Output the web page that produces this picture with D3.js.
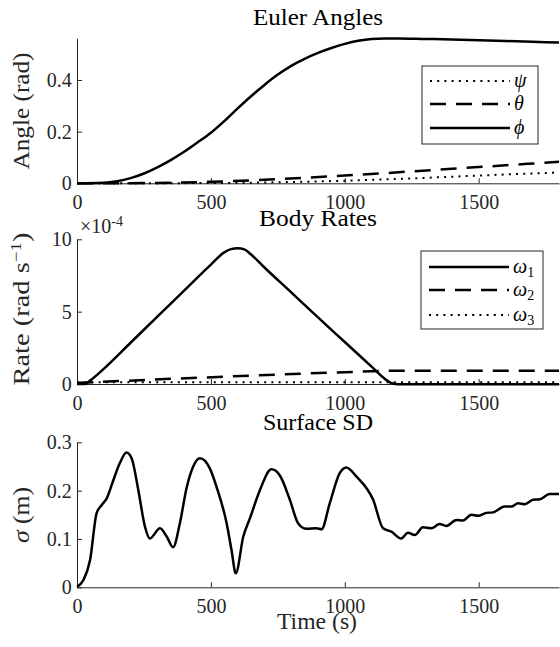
<!DOCTYPE html>
<html><head><meta charset="utf-8">
<script src="https://cdn.jsdelivr.net/npm/d3@7"></script>
<style>
body{margin:0;background:#fff}svg{display:block}
svg text{font-family:"Liberation Serif","DejaVu Serif","Times New Roman",Times,serif !important;}
</style>
</head><body>
<svg id="c" width="560" height="647"></svg>
<script>
// ---------- data ----------
const xDomain = [0, 1800];
const xTicks = [0, 500, 1000, 1500];

// Euler angles (rad)
const tPhi = [0,100,150,200,250,300,350,400,450,500,550,600,650,700,750,800,850,900,950,1000,1050,1100,1150,1200,1300,1400,1500,1600,1700,1800];
const phi  = [0,0.002,0.008,0.020,0.038,0.062,0.090,0.122,0.158,0.196,0.241,0.290,0.337,0.381,0.421,0.455,0.482,0.505,0.524,0.540,0.552,0.559,0.561,0.561,0.559,0.557,0.554,0.551,0.548,0.545];
const tTheta = [0,250,500,750,1000,1250,1500,1800];
const theta  = [0,0.001,0.006,0.016,0.030,0.046,0.063,0.083];
const tPsi = [0,500,750,1000,1250,1500,1800];
const psi  = [0,0.001,0.004,0.010,0.019,0.030,0.042];
const angleYDomain = [0, 0.5615];
const angleYTicks = [0, 0.2, 0.4];
const angleYLabels = ["0", "0.2", "0.4"];

// Body rates (x 1e-4 rad/s)
const tW1 = [0,30,50,100,200,300,400,500,550,575,600,625,650,700,800,900,1000,1100,1150,1175,1200,1800];
const w1  = [0,0,0.25,1.05,2.85,4.65,6.45,8.25,9.1,9.32,9.38,9.3,8.95,8.05,6.33,4.6,2.9,1.2,0.35,0.05,-0.02,-0.02];
const tW2 = [0,1100,1150,1200,1800];
const w2  = [0.08,0.88,0.91,0.92,0.92];
const tW3 = [0,1800];
const w3  = [0.12,0.12];
const rateYDomain = [0, 10];
const rateYTicks = [0, 5, 10];
const rateYLabels = ["0", "5", "10"];

// Surface SD (m)
const tSig = [0,24,49,73,92,111,136,160,185,204,229,254,272,310,335,359,384,409,434,459,496,521,559,577,593,621,646,683,726,757,795,826,857,894,913,944,981,1006,1044,1106,1143,1174,1211,1236,1261,1292,1323,1354,1379,1417,1441,1473,1497,1529,1553,1597,1622,1647,1672,1703,1728,1765,1800];
const sig  = [0.001,0.015,0.057,0.153,0.170,0.184,0.222,0.257,0.279,0.267,0.201,0.125,0.101,0.122,0.105,0.083,0.132,0.205,0.250,0.267,0.246,0.208,0.132,0.077,0.029,0.105,0.143,0.201,0.244,0.232,0.181,0.132,0.121,0.122,0.120,0.174,0.236,0.248,0.229,0.181,0.122,0.115,0.101,0.113,0.108,0.124,0.122,0.131,0.127,0.139,0.138,0.150,0.148,0.154,0.155,0.167,0.167,0.174,0.172,0.181,0.182,0.193,0.193];
const sigYDomain = [0, 0.3];
const sigYTicks = [0, 0.1, 0.2, 0.3];
const sigYLabels = ["0", "0.1", "0.2", "0.3"];

// ---------- drawing ----------
const svg = d3.select("#c");
const AX = "#262626";
const x = d3.scaleLinear().domain(xDomain).range([77, 559]);
const zip = (a, b) => a.map((v, i) => [v, b[i]]);

const STY = {
  solid:  {w: 2.5, dash: null},
  dashed: {w: 2.5, dash: "16 10"},
  dotted: {w: 2,   dash: "2 5.2"}
};

function panel(top, bottom, yDomain, yTicks, yLabels) {
  const y = d3.scaleLinear().domain(yDomain).range([bottom, top]);
  const g = svg.append("g");
  const xa = g.append("g").attr("transform", `translate(0,${bottom})`)
    .call(d3.axisBottom(x).tickValues(xTicks).tickSizeInner(-5).tickSizeOuter(0).tickPadding(11.5).tickFormat(d3.format("d")));
  const ya = g.append("g").attr("transform", `translate(${x(0)},0)`)
    .call(d3.axisLeft(y).tickValues(yTicks).tickSizeInner(-5).tickSizeOuter(0).tickPadding(5.3)
      .tickFormat((d, i) => yLabels[i]));
  [xa, ya].forEach(a => {
    a.attr("font-family", null).attr("font-size", null);
    a.selectAll("path.domain").attr("stroke", AX).attr("stroke-width", 1);
    a.selectAll(".tick line").attr("stroke", AX).attr("stroke-width", 1);
    a.selectAll("text").style("font-size", "20px").attr("fill", AX);
  });
  return {g, y};
}

function drawLine(p, data, style) {
  const s = STY[style];
  const line = d3.line().x(d => x(d[0])).y(d => p.y(d[1])).curve(d3.curveMonotoneX);
  p.g.append("path").datum(data).attr("d", line)
    .attr("fill", "none").attr("stroke", "#000").attr("stroke-width", s.w)
    .attr("stroke-dasharray", s.dash).attr("stroke-linejoin", "round");
}

function title(txt, yb, len) {
  svg.append("text").attr("x", 318).attr("y", yb).attr("text-anchor", "middle")
    .style("font-size", "22.5px").attr("fill", "#000")
    .attr("textLength", len).attr("lengthAdjust", "spacingAndGlyphs").text(txt);
}

function ylabel(cy, builder, len) {
  const t = svg.append("text").attr("transform", `translate(29,${cy}) rotate(-90)`)
    .attr("text-anchor", "middle").style("font-size", "22.5px").attr("fill", AX);
  builder(t);
  if (len) t.attr("textLength", len).attr("lengthAdjust", "spacingAndGlyphs");
}

function legend(bx, by, bw, bh, entries) {
  const g = svg.append("g");
  g.append("rect").attr("x", bx).attr("y", by).attr("width", bw).attr("height", bh)
    .attr("fill", "#fff").attr("stroke", AX).attr("stroke-width", 1);
  entries.forEach(e => {
    const s = STY[e.style];
    g.append("line").attr("x1", bx + 8).attr("x2", bx + 88).attr("y1", e.y).attr("y2", e.y)
      .attr("stroke", "#000").attr("stroke-width", s.w).attr("stroke-dasharray", s.dash);
    const t = g.append("text").attr("x", bx + 92).attr("y", e.y + 6)
      .style("font-size", "20px").attr("fill", "#000");
    t.append("tspan").style("font-style", "italic").text(e.sym);
    if (e.sub) t.append("tspan").style("font-size", "14px").attr("dy", 4).text(e.sub);
  });
}

// Panel 1: Euler angles
const p1 = panel(38.3, 183.3, angleYDomain, angleYTicks, angleYLabels);
drawLine(p1, zip(tPsi, psi), "dotted");
drawLine(p1, zip(tTheta, theta), "dashed");
drawLine(p1, zip(tPhi, phi), "solid");
title("Euler Angles", 25, 130);
ylabel(111, t => t.text("Angle (rad)"), 117);
legend(422, 66, 116, 78, [
  {sym: "ψ", style: "dotted", y: 81},
  {sym: "θ", style: "dashed", y: 104},
  {sym: "ϕ", style: "solid", y: 128}
]);

// Panel 2: Body rates
const p2 = panel(239.3, 384, rateYDomain, rateYTicks, rateYLabels);
drawLine(p2, zip(tW3, w3), "dotted");
drawLine(p2, zip(tW2, w2), "dashed");
drawLine(p2, zip(tW1, w1), "solid");
title("Body Rates", 226, 118);
ylabel(309, t => {
  t.append("tspan").text("Rate (rad s");
  t.append("tspan").style("font-size", "15px").attr("dy", -8).text("−1");
  t.append("tspan").attr("dy", 8).text(")");
}, 153);
const ex = svg.append("text").attr("x", 80).attr("y", 233)
  .style("font-size", "20px").attr("fill", AX);
ex.append("tspan").text("×10");
ex.append("tspan").style("font-size", "14px").attr("dy", -7).text("-4");
legend(421, 251, 122, 78, [
  {sym: "ω", sub: "1", style: "solid", y: 267},
  {sym: "ω", sub: "2", style: "dashed", y: 290},
  {sym: "ω", sub: "3", style: "dotted", y: 315}
]);

// Panel 3: Surface SD
const p3 = panel(442.3, 587.3, sigYDomain, sigYTicks, sigYLabels);
drawLine(p3, zip(tSig, sig), "solid");
title("Surface SD", 430, 110);
ylabel(515, t => {
  t.append("tspan").style("font-style", "italic").text("σ");
  t.append("tspan").text(" (m)");
}, 56);
svg.append("text").attr("x", 317).attr("y", 629).attr("text-anchor", "middle")
  .style("font-size", "22.5px").attr("fill", AX)
  .attr("textLength", 80).attr("lengthAdjust", "spacingAndGlyphs").text("Time (s)");
</script>
</body></html>
